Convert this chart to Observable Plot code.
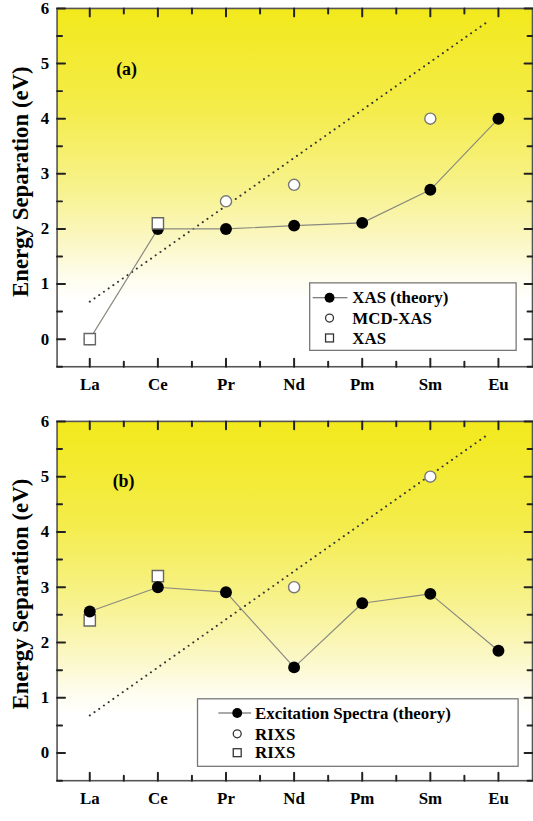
<!DOCTYPE html>
<html><head><meta charset="utf-8">
<script src="https://cdn.jsdelivr.net/npm/d3@7"></script>
<script src="https://cdn.jsdelivr.net/npm/@observablehq/plot@0.6"></script>
<style>
html,body{margin:0;padding:0;background:#fff;overflow:hidden;width:533px;height:821px;}
#chart svg{display:block;}
</style></head><body><div id="chart"></div>
<script>
// ---- shared axis data ----
const elements = ["La","Ce","Pr","Nd","Pm","Sm","Eu"];
const xTicks = [0,1,2,3,4,5,6];
const xMinorTicks = [0.5,1.5,2.5,3.5,4.5,5.5];
const yTicks = [0,1,2,3,4,5,6];
const yMinorTicks = [-0.5,0.5,1.5,2.5,3.5,4.5,5.5];
const yTitle = "Energy Separation (eV)";

// dotted reference line (same in both panels): element index, value
const refLineIndex = [0, 5.83];
const refLineValues = [0.68, 5.75];

// ---- panel (a) ----
const aTheory = [0, 2.0, 2.0, 2.06, 2.11, 2.71, 4.0];
const aCircleElems = ["Pr","Nd","Sm"];
const aCircleValues = [2.5, 2.8, 4.0];
const aSquareElems = ["La","Ce"];
const aSquareValues = [0, 2.1];
const aLegend = ["XAS (theory)", "MCD-XAS", "XAS"];

// ---- panel (b) ----
const bTheory = [2.56, 3.0, 2.91, 1.55, 2.71, 2.88, 1.85];
const bCircleElems = ["Nd","Sm"];
const bCircleValues = [3.0, 5.0];
const bSquareElems = ["La","Ce"];
const bSquareValues = [2.4, 3.2];
const bLegend = ["Excitation Spectra (theory)", "RIXS", "RIXS"];

const FONT = "'Liberation Serif','Times New Roman',serif";
const W = 537, ML = 57, MR = 1;
const X_DOMAIN = [-0.48, 6.5], Y_DOMAIN = [-0.5, 6];

function makePanel(cfg) {
  const theory = cfg.theory.map((v,i)=>({x:i, y:v}));
  const circles = cfg.circleElems.map((e,i)=>({x:elements.indexOf(e), y:cfg.circleValues[i]}));
  const squares = cfg.squareElems.map((e,i)=>({x:elements.indexOf(e), y:cfg.squareValues[i]}));
  const ref = refLineIndex.map((x,i)=>({x, y:refLineValues[i]}));
  const filledDots = Plot.dot(theory, {x:"x", y:"y", r:6, fill:"#000"});
  const openDots = Plot.dot(circles, {x:"x", y:"y", r:5.6, fill:"#fff", stroke:"#777", strokeWidth:1.4});
  const sqDots = Plot.dot(squares, {x:"x", y:"y", symbol:"square", r:6.4, fill:"#fff", stroke:"#666", strokeWidth:1.4});
  const dotMarks = cfg.squaresOnTop ? [filledDots, openDots, sqDots] : [sqDots, openDots, filledDots];
  const innerH = cfg.height - cfg.marginTop - cfg.marginBottom;
  const innerW = W - ML - MR;
  // tick lengths (pixels) converted to data units; ticks built as short two-point line segments
  const yPx = (Y_DOMAIN[1]-Y_DOMAIN[0]) / innerH, xPx = (X_DOMAIN[1]-X_DOMAIN[0]) / innerW;
  const [xa, xb] = X_DOMAIN, [ya, yb] = Y_DOMAIN;
  const major = 8, minor = 5;
  const segs = [];
  let k = 0;
  const seg = (p, q) => { segs.push({x:p[0], y:p[1], k}, {x:q[0], y:q[1], k}); k++; };
  for (const [vals, len] of [[xTicks, major], [xMinorTicks, minor]]) for (const v of vals) {
    seg([v, ya], [v, ya + len*yPx]);
    seg([v, yb], [v, yb - len*yPx]);
  }
  for (const [vals, len] of [[yTicks, major], [yMinorTicks, minor]]) for (const v of vals) {
    seg([xa, v], [xa + len*xPx, v]);
    seg([xb, v], [xb - len*xPx, v]);
  }
  const chart = Plot.plot({
    width: W, height: cfg.height,
    marginLeft: ML, marginRight: MR, marginTop: cfg.marginTop, marginBottom: cfg.marginBottom,
    x: {domain: X_DOMAIN, label: null},
    y: {domain: Y_DOMAIN, label: null},
    style: {fontFamily: FONT, fontWeight: "bold", fontSize: "17px", background: "transparent", color: "#000"},
    marks: [
      Plot.frame({fill: `url(#${cfg.id}-grad)`, stroke: "none"}),
      Plot.line(ref, {x:"x", y:"y", stroke:"#333", strokeWidth:2, strokeDasharray:"0.1 5.7", strokeLinecap:"round"}),
      Plot.line(theory, {x:"x", y:"y", stroke:"#8a8a80", strokeWidth:1.2}),
      ...dotMarks,
      Plot.frame({stroke:"#555", strokeWidth:1.6}),
      Plot.line(segs, {x:"x", y:"y", z:"k", stroke:"#222", strokeWidth:2}),
      // labels
      Plot.axisX(xTicks, {anchor:"bottom", tickSize:0, tickPadding:11, tickFormat: i => elements[i], fontSize:17, label:null}),
      Plot.axisY(yTicks, {anchor:"left", tickSize:0, tickPadding:8, tickFormat: d => String(d), fontSize:17, label:null}),
      Plot.text([cfg.tag], {text:d=>d, frameAnchor:"top-left", dx:cfg.tagDx, dy:cfg.tagDy, fontSize:18, textAnchor:"middle"}),
      Plot.text([yTitle], {text:d=>d, frameAnchor:"left", dx:-37, dy:cfg.titleDy, rotate:-90, fontSize:23, textAnchor:"middle"})
    ]
  });
  const svg = d3.select(chart);
  const grad = svg.insert("defs", ":first-child").append("linearGradient")
    .attr("id", `${cfg.id}-grad`).attr("x1",0).attr("y1",0).attr("x2",0).attr("y2",1);
  [[0,"#f2e91c"],[0.28,"#f4ec4a"],[0.5,"#f7f28c"],[0.65,"#fbf7c4"],[0.76,"#fefdf0"],[0.82,"#ffffff"],[1,"#ffffff"]]
    .forEach(([o,c]) => grad.append("stop").attr("offset",o).attr("stop-color",c));

  // legend
  const L = cfg.legend;
  const g = svg.append("g").attr("font-family", FONT).attr("font-weight","bold").attr("font-size", 17).attr("text-anchor","start");
  g.append("rect").attr("x",L.x).attr("y",L.y).attr("width",L.w).attr("height",L.h)
    .attr("fill","#fff").attr("stroke","#777").attr("stroke-width",1.3);
  g.append("line").attr("x1",L.lx1).attr("x2",L.lx2).attr("y1",L.rows[0]).attr("y2",L.rows[0])
    .attr("stroke","#555").attr("stroke-width",1.2);
  g.append("circle").attr("cx",L.mx).attr("cy",L.rows[0]).attr("r",5).attr("fill","#000");
  g.append("circle").attr("cx",L.mx).attr("cy",L.rows[1]).attr("r",4).attr("fill","#fff").attr("stroke","#333").attr("stroke-width",1.3);
  g.append("rect").attr("x",L.mx-4).attr("y",L.rows[2]-4).attr("width",8).attr("height",8).attr("fill","#fff").attr("stroke","#333").attr("stroke-width",1.3);
  cfg.legendLabels.forEach((t,i) => g.append("text").attr("x",L.tx).attr("y",L.rows[i]).attr("dy","0.34em").attr("text-anchor","start").attr("fill","#000").text(t));
  return chart;
}

const root = document.getElementById("chart");
root.appendChild(makePanel({
  id:"a", height:410, marginTop:8, marginBottom:41,
  theory:aTheory, circleElems:aCircleElems, circleValues:aCircleValues,
  squareElems:aSquareElems, squareValues:aSquareValues, squaresOnTop:true,
  tag:"(a)", tagDx:70, tagDy:54, titleDy:-6,
  legendLabels:aLegend,
  legend:{x:312, y:285, w:208, h:68, rows:[300,320.5,340.5], lx1:315, lx2:350, mx:332, tx:355}
}));
root.appendChild(makePanel({
  id:"b", height:411, marginTop:14, marginBottom:35,
  theory:bTheory, circleElems:bCircleElems, circleValues:bCircleValues,
  squareElems:bSquareElems, squareValues:bSquareValues, squaresOnTop:false,
  tag:"(b)", tagDx:67, tagDy:53, titleDy:-7,
  legendLabels:bLegend,
  legend:{x:199, y:294, w:323, h:68, rows:[308.3,329.3,348.3], lx1:220, lx2:253, mx:239, tx:257}
}));
</script></body></html>
